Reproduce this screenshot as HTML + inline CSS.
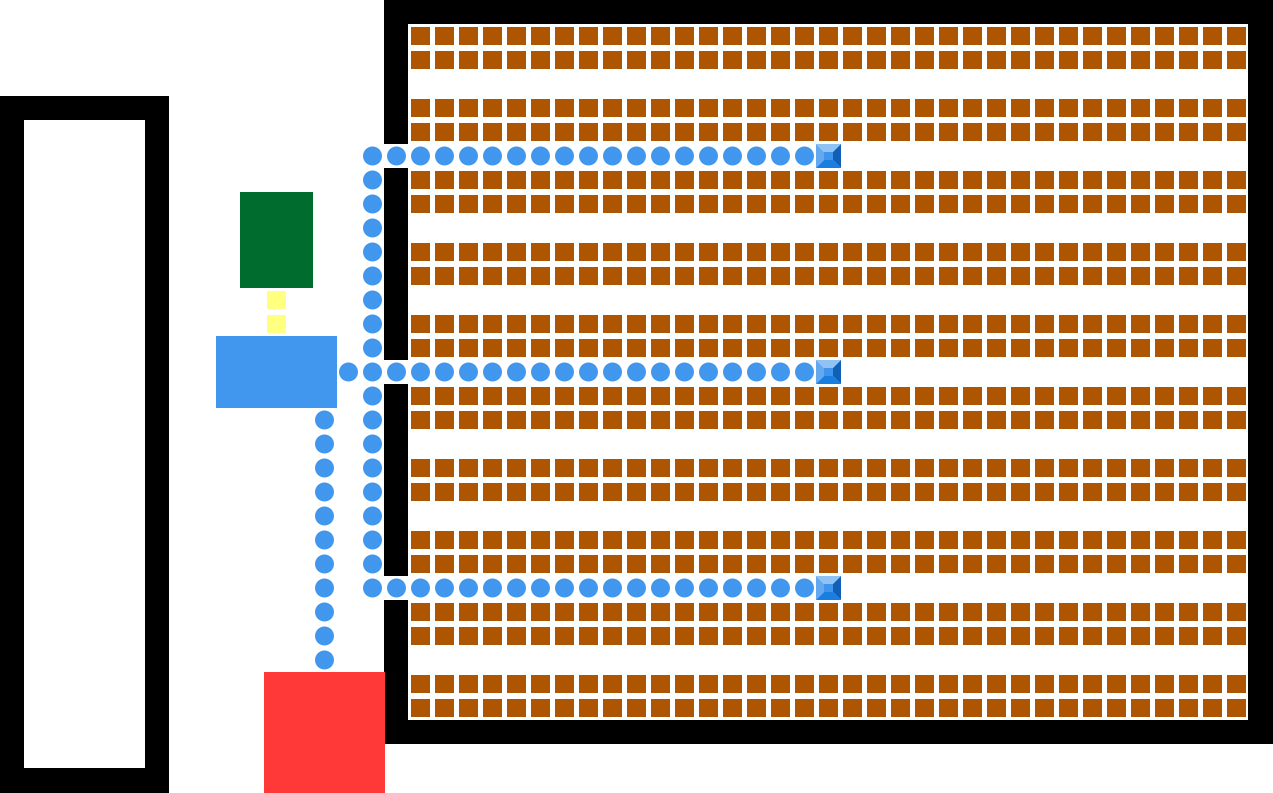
<!DOCTYPE html>
<html><head><meta charset="utf-8"><style>html,body{margin:0;padding:0;background:#fff;overflow:hidden}svg{display:block}</style></head><body>
<svg width="1273" height="793" viewBox="0 0 1273 793" xmlns="http://www.w3.org/2000/svg">
<defs>
<pattern id="t" patternUnits="userSpaceOnUse" x="0" y="0" width="24" height="24"><rect x="3" y="3" width="19" height="18" fill="#ad5500"/></pattern>
<pattern id="d" patternUnits="userSpaceOnUse" x="0" y="0" width="24" height="24"><circle cx="12.5" cy="12" r="9.5" fill="#4196ee"/></pattern>
<g id="p"><polygon points="0,0 25,0 17,8 8,8" fill="#8fc3f5"/><polygon points="0,0 8,8 8,16 0,24" fill="#64a9ef"/><polygon points="25,0 25,24 17,16 17,8" fill="#1060b8"/><polygon points="0,24 8,16 17,16 25,24" fill="#1a7ee0"/><rect x="8" y="8" width="9" height="8" fill="#4094ec"/></g>
</defs>
<rect x="0" y="96" width="169" height="697" fill="#000"/>
<rect x="24" y="120" width="121" height="648" fill="#fff"/>
<rect x="384" y="0" width="889" height="744" fill="#000"/>
<rect x="408" y="24" width="840" height="696" fill="#fff"/>
<rect x="384" y="144" width="24" height="24" fill="#fff"/>
<rect x="384" y="360" width="24" height="24" fill="#fff"/>
<rect x="384" y="576" width="24" height="24" fill="#fff"/>
<g fill="url(#t)">
<rect x="408" y="24" width="840" height="48"/>
<rect x="408" y="96" width="840" height="48"/>
<rect x="408" y="168" width="840" height="48"/>
<rect x="408" y="240" width="840" height="48"/>
<rect x="408" y="312" width="840" height="48"/>
<rect x="408" y="384" width="840" height="48"/>
<rect x="408" y="456" width="840" height="48"/>
<rect x="408" y="528" width="840" height="48"/>
<rect x="408" y="600" width="840" height="48"/>
<rect x="408" y="672" width="840" height="48"/>
</g>
<g fill="url(#d)">
<rect x="360" y="144" width="456" height="24"/>
<rect x="336" y="360" width="480" height="24"/>
<rect x="360" y="576" width="456" height="24"/>
<rect x="360" y="168" width="24" height="192"/>
<rect x="360" y="384" width="24" height="192"/>
<rect x="312" y="408" width="24" height="264"/>
</g>
<use href="#p" x="816" y="144"/>
<use href="#p" x="816" y="360"/>
<use href="#p" x="816" y="576"/>
<rect x="240" y="192" width="73" height="96" fill="#006d2f"/>
<rect x="267" y="291" width="19" height="18" fill="#ffff80"/>
<rect x="267" y="315" width="19" height="18" fill="#ffff80"/>
<rect x="216" y="336" width="121" height="72" fill="#4196ee"/>
<rect x="264" y="672" width="121" height="121" fill="#ff3838"/>
</svg>
</body></html>
